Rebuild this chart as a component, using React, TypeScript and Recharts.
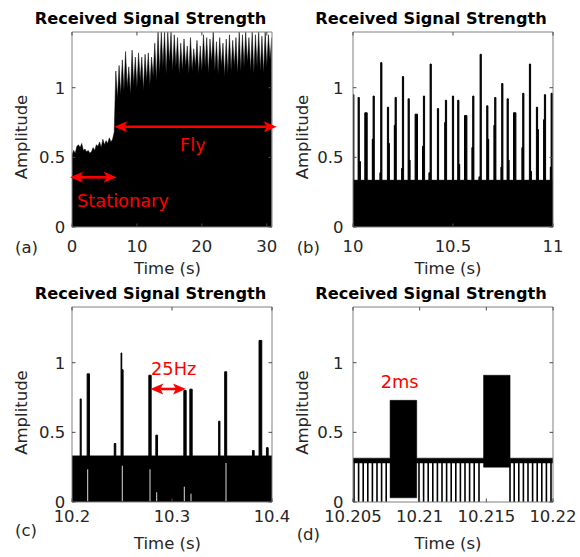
import React from 'react'
import { ComposedChart, Area, Line, XAxis, YAxis } from 'recharts'

// ---- (a) upper envelope of the received signal, one reading every 0.25 s ----
const stepA = 0.25
const envelopeA = [
  0.52, 0.55, 0.53, 0.58, // 0 s
  0.59, 0.57, 0.6, 0.55,
  0.56, 0.54, 0.55, 0.53,
  0.54, 0.57, 0.55, 0.59,
  0.58, 0.61, 0.57, 0.63,
  0.59, 0.62, 0.6, 0.64,
  0.61, 0.63, 0.68, 1.12,
  0.92, 1.16, 0.95, 1.2,
  0.98, 1.26, 1.0, 1.15,
  0.95, 1.27, 1.02, 1.22,
  1.0, 1.25, 1.05, 1.22, // 10 s
  0.98, 1.24, 1.05, 1.25,
  1.02, 1.22, 1.08, 1.32,
  1.05, 1.4, 1.1, 1.4,
  1.15, 1.4, 1.1, 1.4,
  1.18, 1.4, 1.12, 1.38,
  1.15, 1.36, 1.1, 1.32,
  1.12, 1.35, 1.15, 1.3,
  1.1, 1.36, 1.12, 1.28,
  1.15, 1.34, 1.1, 1.3,
  1.12, 1.38, 1.15, 1.36, // 20 s
  1.1, 1.35, 1.18, 1.4,
  1.12, 1.33, 1.1, 1.36,
  1.15, 1.32, 1.08, 1.35,
  1.1, 1.38, 1.12, 1.34,
  1.15, 1.36, 1.1, 1.4,
  1.12, 1.38, 1.15, 1.4,
  1.18, 1.36, 1.12, 1.4,
  1.1, 1.38, 1.15, 1.4,
  1.12, 1.37, 1.1, 1.4,
  1.15, 1.38, 1.2, 1.36, // 30 s
]

// ---- (b) 10 s .. 11 s : noise floor + spikes ----
const floorB = 0.335
const spikeTimesB = [
  10.0015, 10.0285, 10.065, 10.1035, 10.1415, 10.175, 10.2135, 10.25, 10.2785, 10.3165,
  10.355, 10.3885, 10.425, 10.465, 10.5, 10.5265, 10.5635, 10.6015, 10.6385, 10.6715,
  10.7115, 10.7465, 10.7735, 10.8085, 10.8515, 10.885, 10.92, 10.96, 10.9935,
]
const spikeHeightsB = [
  0.95, 0.93, 0.82, 0.94, 1.18, 0.86, 0.93, 1.08, 0.92, 0.81,
  0.94, 1.17, 0.85, 0.91, 0.94, 0.91, 0.8, 0.94, 1.24, 0.87,
  0.93, 1.03, 0.92, 0.82, 0.96, 1.17, 0.86, 0.95, 0.96,
]
const spikeDurB = [
  0.006, 0.006, 0.012, 0.006, 0.006, 0.006, 0.006, 0.006, 0.006, 0.012,
  0.006, 0.006, 0.006, 0.006, 0.006, 0.006, 0.012, 0.006, 0.006, 0.006,
  0.006, 0.006, 0.006, 0.012, 0.006, 0.006, 0.006, 0.006, 0.006,
]
const shoulderTimesB = [
  10.035, 10.0985, 10.1365, 10.18, 10.2085, 10.245, 10.2835, 10.3495, 10.3815, 10.4605,
  10.5315, 10.5965, 10.6315, 10.6765, 10.7065, 10.7415, 10.7785, 10.8465, 10.8900, 10.925,
  10.9550, 10.9885,
]
const shoulderHeightsB = [
  0.47, 0.63, 0.39, 0.6, 0.73, 0.42, 0.48, 0.58, 0.39, 0.75,
  0.45, 0.57, 0.36, 0.63, 0.73, 0.43, 0.48, 0.57, 0.4, 0.7,
  0.77, 0.43,
]
const shoulderDurB = 0.004

// ---- (c) 10.2 s .. 10.4 s ----
const floorC = 0.33
const spikeTimesC = [10.2087, 10.2163, 10.243, 10.2494, 10.2505, 10.278, 10.2847, 10.313, 10.319, 10.3473, 10.3537, 10.3813, 10.3884, 10.3953]
const spikeHeightsC = [0.74, 0.92, 0.42, 1.07, 0.95, 0.91, 0.48, 0.8, 0.81, 0.58, 0.935, 0.37, 1.16, 0.39]
const spikeDurC = [0.001, 0.0023, 0.0015, 0.0007, 0.0012, 0.0023, 0.0017, 0.0023, 0.0023, 0.0013, 0.002, 0.0017, 0.0027, 0.0017]
const gapTimesC = [10.2157, 10.2503, 10.278, 10.2847, 10.3123, 10.319, 10.354]
const gapTopsC = [0.235, 0.26, 0.235, 0.07, 0.11, 0.06, 0.28]

// ---- (d) 10.205 s .. 10.22 s ----
const bandLowD = 0.28
const bandHighD = 0.315
const burstStartD = [10.20778, 10.21479]
const burstEndD = [10.20978, 10.21678]
const burstLowD = [0.03, 0.25]
const burstHighD = [0.73, 0.91]
const combTimesD = [
  10.205075, 10.20542, 10.205765, 10.20611, 10.206455, 10.2068, 10.207145, 10.20749,
  10.20995, 10.210295, 10.21064, 10.210985, 10.21133, 10.211675, 10.21202, 10.212365,
  10.21271, 10.213055, 10.2134, 10.213745, 10.21409, 10.21445,
  10.216775, 10.21709, 10.217435, 10.21778, 10.218125, 10.21847, 10.218815, 10.21916,
  10.219505, 10.21985,
]

const yTicks = [0, 0.5, 1]
const yMax = 1.4

// ---- table builders ----
type Pulse = { t: number; h: number; w: number }

function pulseTrace(start: number, end: number, base: number, pulses: Pulse[]) {
  const pts: { t: number; v: number }[] = [{ t: start, v: base }]
  ;[...pulses].sort((a, b) => a.t - b.t).forEach((p) => {
    const a = p.t - p.w / 2
    const b = p.t + p.w / 2
    pts.push({ t: a, v: base }, { t: a, v: p.h }, { t: b, v: p.h }, { t: b, v: base })
  })
  pts.push({ t: end, v: base })
  return pts
}

function verticalStrokes(times: number[], lo: number[], hi: number[]) {
  const pts: { t: number; v: number | null }[] = []
  times.forEach((t, i) => {
    pts.push({ t, v: lo[i] }, { t, v: hi[i] }, { t, v: null })
  })
  return pts
}

const dataA = envelopeA.map((v, i) => ({ t: i * stepA, v }))

const dataB = pulseTrace(
  9.99,
  11.01,
  floorB,
  [
    ...spikeTimesB.map((t, i) => ({ t, h: spikeHeightsB[i], w: spikeDurB[i] })),
    ...shoulderTimesB.map((t, i) => ({ t, h: shoulderHeightsB[i], w: shoulderDurB })),
  ]
)

const dataC = pulseTrace(
  10.199,
  10.401,
  floorC,
  spikeTimesC.map((t, i) => ({ t, h: spikeHeightsC[i], w: spikeDurC[i] }))
)
const gapsC = verticalStrokes(gapTimesC, gapTimesC.map(() => 0.006), gapTopsC)

const dataD = (() => {
  const band = [bandLowD, bandHighD]
  const pts: { t: number; v: number[] }[] = [{ t: 10.2049, v: band }]
  burstStartD.forEach((s, i) => {
    const burst = [burstLowD[i], burstHighD[i]]
    pts.push({ t: s, v: band }, { t: s, v: burst }, { t: burstEndD[i], v: burst }, { t: burstEndD[i], v: band })
  })
  pts.push({ t: 10.2201, v: band })
  return pts
})()
const combD = verticalStrokes(combTimesD, combTimesD.map(() => 0), combTimesD.map(() => bandLowD + 0.004))

// ---- styling ----
const FONT = '"DejaVu Sans", sans-serif'
const INK = '#262626'
const FRAME = '#808080'
const TICKC = '#4a4a4a'
const RED = '#ff0000'
const TL = 3.5

const bottomTick = (dy: number) => (p: any) => (
  <g>
    <line x1={p.x} y1={p.y} x2={p.x} y2={p.y - TL} stroke={TICKC} />
    <text x={p.x} y={p.y + dy} textAnchor="middle" fontFamily={FONT} fontSize={16.5} fill={INK}>
      {String(p.payload.value)}
    </text>
  </g>
)
const topTick = (p: any) => <line x1={p.x} y1={p.y} x2={p.x} y2={p.y + TL} stroke={TICKC} />
const leftTick = (gap: number) => (p: any) => (
  <g>
    <line x1={p.x} y1={p.y} x2={p.x + TL} y2={p.y} stroke={TICKC} />
    <text x={p.x - gap} y={p.y + 6} textAnchor="end" fontFamily={FONT} fontSize={16.5} fill={INK}>
      {String(p.payload.value)}
    </text>
  </g>
)
const rightTick = (p: any) => <line x1={p.x} y1={p.y} x2={p.x - TL} y2={p.y} stroke={TICKC} />

type PanelProps = {
  left: number
  top: number
  axisW: number
  right: number
  xDomain: [number, number]
  xTicks: number[]
  labelDy: number
  labelGap: number
  data: any[]
  children: React.ReactNode
}

// plot area: axisW .. 290-right horizontally, 32 .. 227 vertically
function Panel({ left, top, axisW, right, xDomain, xTicks, labelDy, labelGap, data, children }: PanelProps) {
  return (
    <div style={{ position: 'absolute', left, top }}>
      <ComposedChart width={290} height={280} data={data} margin={{ top: 31, right: right - 1, bottom: 52, left: 0 }}>
        {children}
        <XAxis
          xAxisId="b"
          dataKey="t"
          type="number"
          domain={xDomain}
          ticks={xTicks}
          interval={0}
          allowDataOverflow
          height={1}
          tickSize={0}
          tickMargin={0}
          tickLine={false}
          axisLine={{ stroke: FRAME }}
          tick={bottomTick(labelDy)}
        />
        <XAxis
          xAxisId="t"
          orientation="top"
          dataKey="t"
          type="number"
          domain={xDomain}
          ticks={xTicks}
          interval={0}
          allowDataOverflow
          height={1}
          tickSize={0}
          tickMargin={0}
          tickLine={false}
          axisLine={{ stroke: FRAME }}
          tick={topTick}
        />
        <YAxis
          yAxisId="l"
          type="number"
          domain={[0, yMax]}
          ticks={yTicks}
          interval={0}
          allowDataOverflow
          width={axisW}
          tickSize={0}
          tickMargin={0}
          tickLine={false}
          axisLine={{ stroke: FRAME }}
          tick={leftTick(labelGap)}
        />
        <YAxis
          yAxisId="r"
          orientation="right"
          type="number"
          domain={[0, yMax]}
          ticks={yTicks}
          interval={0}
          allowDataOverflow
          width={1}
          tickSize={0}
          tickMargin={0}
          tickLine={false}
          axisLine={{ stroke: FRAME }}
          tick={rightTick}
        />
      </ComposedChart>
    </div>
  )
}

function DoubleArrow({ x1, x2, y }: { x1: number; x2: number; y: number }) {
  const L = 13
  const H = 5.5
  const N = 3
  return (
    <g fill={RED} stroke="none">
      <line x1={x1 + L - N} y1={y} x2={x2 - L + N} y2={y} stroke={RED} strokeWidth={2.6} />
      <polygon points={`${x1},${y} ${x1 + L},${y - H} ${x1 + L - N},${y} ${x1 + L},${y + H}`} />
      <polygon points={`${x2},${y} ${x2 - L},${y - H} ${x2 - L + N},${y} ${x2 - L},${y + H}`} />
    </g>
  )
}

const titles = [
  { x: 150.5, y: 23.5 },
  { x: 431, y: 23.5 },
  { x: 150.5, y: 298.5 },
  { x: 431, y: 298.5 },
]
const ylabels = [
  { x: 27, y: 137 },
  { x: 308, y: 137 },
  { x: 27, y: 412.5 },
  { x: 308, y: 412.5 },
]
const xlabels = [
  { x: 167.5, y: 273.5 },
  { x: 448, y: 273.5 },
  { x: 167.5, y: 548.5 },
  { x: 448, y: 548.5 },
]
const tags = [
  { s: '(a)', x: 15, y: 252.5 },
  { s: '(b)', x: 296.7, y: 252.5 },
  { s: '(c)', x: 15, y: 536 },
  { s: '(d)', x: 296.7, y: 539.5 },
]

export default function App() {
  return (
    <div style={{ position: 'absolute', left: 0, top: 0, width: 580, height: 557, background: '#fff', overflow: 'hidden' }}>
      <Panel left={0} top={0} axisW={72} right={18} xDomain={[0, 30.8]} xTicks={[0, 10, 20, 30]} labelDy={25} labelGap={6.7} data={dataA}>
        <Area xAxisId="b" yAxisId="l" type="linear" dataKey="v" fill="#000" fillOpacity={1} stroke="#000" strokeWidth={0.5} isAnimationActive={false} dot={false} activeDot={false} />
      </Panel>
      <Panel left={290} top={0} axisW={63} right={27} xDomain={[10, 11]} xTicks={[10, 10.5, 11]} labelDy={25} labelGap={9.5} data={dataB}>
        <Area xAxisId="b" yAxisId="l" type="linear" dataKey="v" fill="#000" fillOpacity={1} stroke="#000" strokeWidth={1} isAnimationActive={false} dot={false} activeDot={false} />
      </Panel>
      <Panel left={0} top={275} axisW={72} right={18} xDomain={[10.2, 10.4]} xTicks={[10.2, 10.3, 10.4]} labelDy={19.5} labelGap={6.7} data={dataC}>
        <Area xAxisId="b" yAxisId="l" type="linear" dataKey="v" fill="#000" fillOpacity={1} stroke="#000" strokeWidth={1} isAnimationActive={false} dot={false} activeDot={false} />
        <Line xAxisId="b" yAxisId="l" data={gapsC} type="linear" dataKey="v" stroke="#ffffff" strokeOpacity={0.85} strokeWidth={1} connectNulls={false} isAnimationActive={false} dot={false} activeDot={false} />
      </Panel>
      <Panel left={290} top={275} axisW={63} right={27} xDomain={[10.205, 10.22]} xTicks={[10.205, 10.21, 10.215, 10.22]} labelDy={19.5} labelGap={9.5} data={dataD}>
        <Area xAxisId="b" yAxisId="l" type="linear" dataKey="v" fill="#000" fillOpacity={1} stroke="#000" strokeWidth={0.5} isAnimationActive={false} dot={false} activeDot={false} />
        <Line xAxisId="b" yAxisId="l" data={combD} type="linear" dataKey="v" stroke="#000" strokeWidth={1.6} connectNulls={false} isAnimationActive={false} dot={false} activeDot={false} />
      </Panel>

      <svg width={580} height={557} style={{ position: 'absolute', left: 0, top: 0, pointerEvents: 'none' }} fontFamily={FONT}>
        {titles.map((t, i) => (
          <text key={'t' + i} x={t.x} y={t.y} textAnchor="middle" fontWeight="bold" fontSize={16.2} fill="#000">
            Received Signal Strength
          </text>
        ))}
        {ylabels.map((t, i) => (
          <text key={'y' + i} transform={`translate(${t.x},${t.y}) rotate(-90)`} textAnchor="middle" fontSize={16.5} fill={INK}>
            Amplitude
          </text>
        ))}
        {xlabels.map((t, i) => (
          <text key={'x' + i} x={t.x} y={t.y} textAnchor="middle" fontSize={16.5} fill={INK}>
            Time (s)
          </text>
        ))}
        {tags.map((t) => (
          <text key={t.s} x={t.x} y={t.y} fontSize={16.5} fill={INK}>
            {t.s}
          </text>
        ))}

        <DoubleArrow x1={70} x2={116.7} y={177.3} />
        <text x={77} y={206.5} fontSize={17.8} fill={RED}>Stationary</text>
        <DoubleArrow x1={114.3} x2={276.7} y={126.7} />
        <text x={180} y={151} fontSize={17.8} fill={RED}>Fly</text>

        <text x={151} y={374.7} fontSize={17.8} fill={RED}>25Hz</text>
        <DoubleArrow x1={150.3} x2={186} y={389} />

        <text x={380.7} y={388} fontSize={17.8} fill={RED}>2ms</text>
      </svg>
    </div>
  )
}
